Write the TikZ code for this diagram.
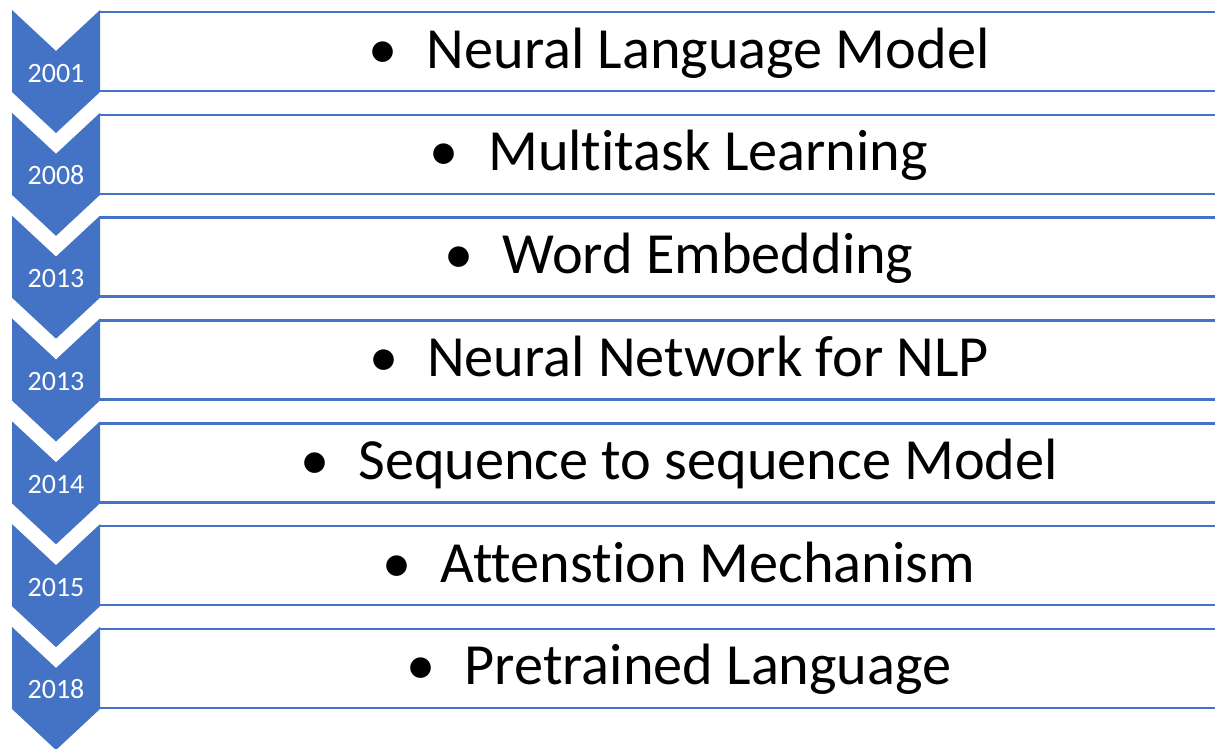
\documentclass[tikz,border=0pt]{standalone}
\usepackage{fontspec}
\setmainfont[Ligatures=NoCommon]{Carlito}
\definecolor{officeblue}{HTML}{4472C4}
\tikzset{
  chevron/.style={fill=officeblue, draw=none},
  rowline/.style={draw=officeblue, line width=2.6pt},
  yearlabel/.style={text=white, font=\fontsize{28}{32}\selectfont, anchor=base, inner sep=0pt},
  itemlabel/.style={text=black, font=\fontsize{58.3}{66}\selectfont, anchor=base, inner sep=0pt},
}
\begin{document}
\begin{tikzpicture}[x=1pt, y=-1pt]
  \useasboundingbox[fill=white] (0,0) rectangle (1215,748);
  \def\period{102.83}
  \foreach \yr/\txt [count=\i from 0] in {
      2001/Neural Language Model,
      2008/Multitask Learning,
      2013/Word Embedding,
      2013/Neural Network for NLP,
      2014/Sequence to sequence Model,
      2015/Attenstion Mechanism,
      2018/Pretrained Language} {
    \pgfmathsetmacro{\yt}{10+\period*\i}
    % row frame: top and bottom rules
    \draw[rowline] (100,\yt+2) -- (1215,\yt+2);
    \draw[rowline] (100,\yt+81) -- (1215,\yt+81);
    % downward chevron with the year
    \fill[chevron] (12,\yt) -- (56,\yt+41) -- (100,\yt) -- (100,\yt+82)
                   -- (56,\yt+123) -- (12,\yt+82) -- cycle;
    \node[yearlabel] (year\i) at (56,\yt+72) {\yr};
    \node[itemlabel] (item\i) at (679,\yt+58) {\textbullet\hspace{0.5em}\txt};
  }
\end{tikzpicture}
\end{document}
